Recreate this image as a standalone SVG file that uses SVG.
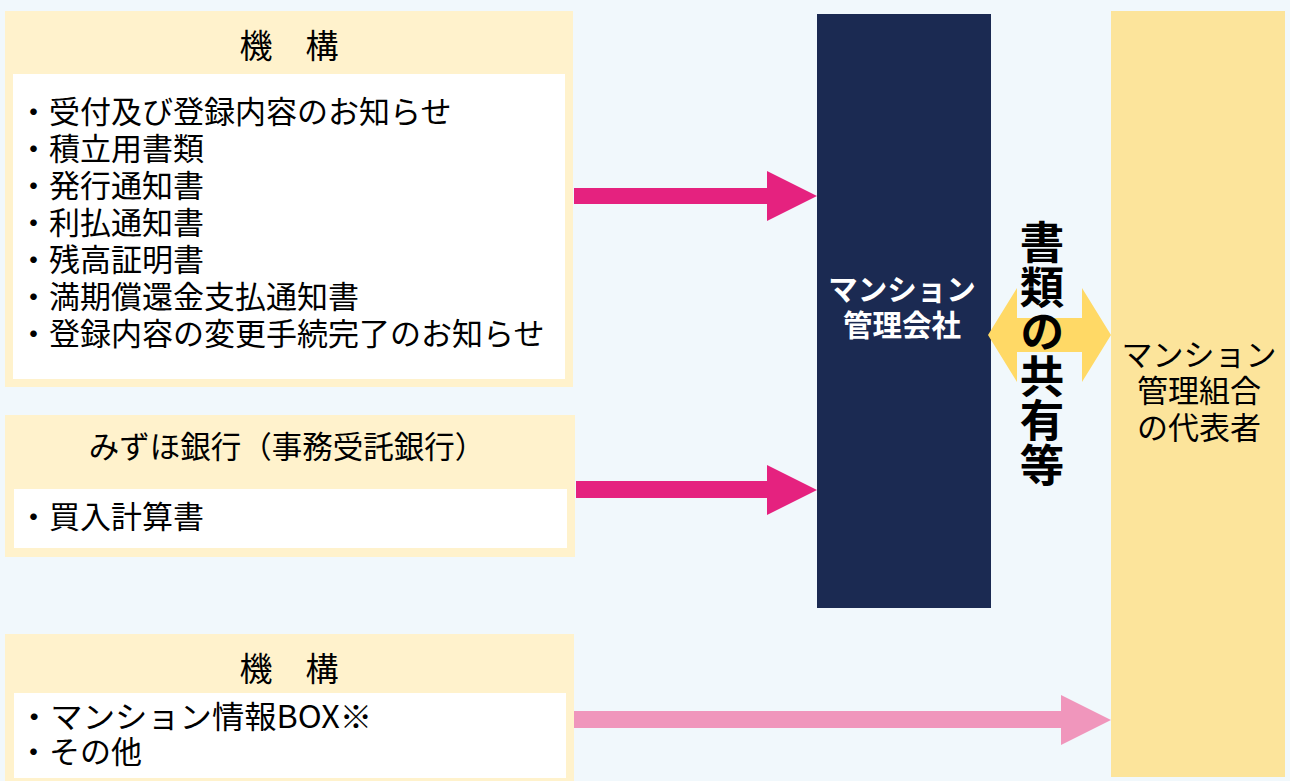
<svg xmlns="http://www.w3.org/2000/svg" width="1290" height="781" viewBox="0 0 1290 781">
<style>
text{font-family:"Noto Sans CJK JP","Noto Sans",sans-serif;fill:#000}
.outer{fill:#FFF2CC}
.inner{fill:#FFFFFF}
.ttl{font-size:33px;text-anchor:middle}
.item{font-size:31px}
.big{font-size:44.5px;font-weight:bold}
.nav{font-size:29.5px;font-weight:bold;text-anchor:middle;fill:#FFFFFF}
.rep{font-size:31px;text-anchor:middle}
.a1{fill:#E5227F}
.a2{fill:#F096BC}
.a3{fill:#FFD966}
</style>
<rect x="0" y="0" width="1290" height="781" fill="#F1F8FC"/>

<g id="kikou1">
<rect class="outer" x="5" y="11" width="568" height="376"/>
<rect class="inner" x="13" y="74" width="552" height="305"/>
<text class="ttl" x="289" y="58">機　構</text>
<text class="item" x="18" y="123"><tspan x="18" y="123">・受付及び登録内容のお知らせ</tspan><tspan x="18" y="160">・積立用書類</tspan><tspan x="18" y="197">・発行通知書</tspan><tspan x="18" y="234">・利払通知書</tspan><tspan x="18" y="271">・残高証明書</tspan><tspan x="18" y="308">・満期償還金支払通知書</tspan><tspan x="18" y="345">・登録内容の変更手続完了のお知らせ</tspan></text>
</g>

<g id="mizuho">
<rect class="outer" x="5" y="415" width="570" height="142"/>
<rect class="inner" x="14" y="489" width="553" height="59"/>
<text class="ttl" x="287" y="458" style="font-size:30.5px">みずほ銀行（事務受託銀行）</text>
<text class="item" x="18" y="528">・買入計算書</text>
</g>

<g id="kikou2">
<rect class="outer" x="5" y="634" width="569" height="147"/>
<rect class="inner" x="14" y="693" width="552" height="85"/>
<text class="ttl" x="289" y="681">機　構</text>
<text class="item" x="18" y="728"><tspan x="18" y="728" textLength="354" lengthAdjust="spacingAndGlyphs">・マンション情報BOX※</tspan><tspan x="18" y="763">・その他</tspan></text>
</g>

<g id="kanri-kaisha">
<rect x="817" y="14" width="174" height="594" fill="#1B2A52"/>
<text class="nav" x="902" y="300"><tspan x="902" y="300">マンション</tspan><tspan x="902" y="336">管理会社</tspan></text>
</g>

<g id="kumiai">
<rect x="1111" y="11" width="174" height="766" fill="#FCE49B"/>
<text class="rep" x="1199" y="366"><tspan x="1199" y="366">マンション</tspan><tspan x="1199" y="402">管理組合</tspan><tspan x="1199" y="439">の代表者</tspan></text>
</g>

<g id="connectors">
<polygon class="a1" points="574,188 767,188 767,171 817,196 767,221 767,204 574,204"/>
<polygon class="a1" points="576,481 767,481 767,465 817,490 767,515 767,498 576,498"/>
<polygon class="a2" points="574,711 1061,711 1061,695 1111,720 1061,745 1061,728 574,728"/>
<polygon class="a3" points="988,335 1017,288 1017,318 1082,318 1082,288 1111,335 1082,382 1082,352 1017,352 1017,382"/>
</g>

<g id="label-shared">
<text class="big" x="1042" y="220" writing-mode="vertical-rl">書類の共有等</text>
</g>
</svg>
